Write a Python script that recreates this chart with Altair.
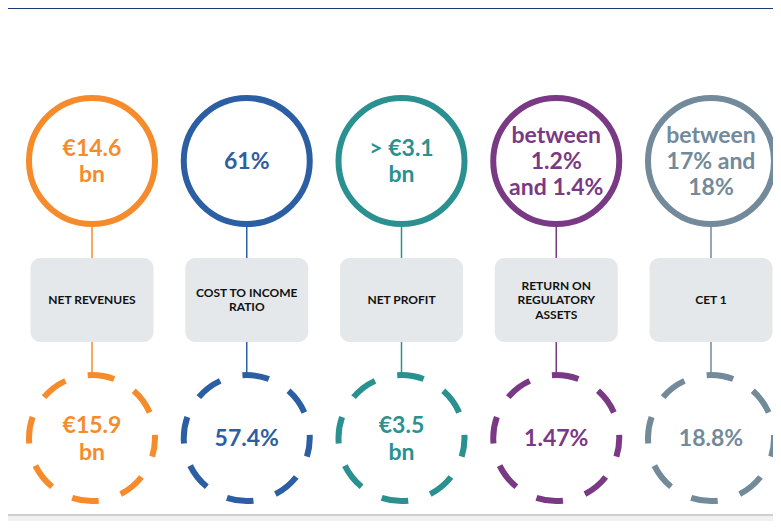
import altair as alt
import pandas as pd

keys = ["rev", "cti", "np", "rora", "cet"]
top_values = ["€14.6\nbn", "61%", "> €3.1\nbn", "between\n1.2%\nand 1.4%", "between\n17% and\n18%"]
labels = ["NET REVENUES", "COST TO INCOME\nRATIO", "NET PROFIT", "RETURN ON\nREGULATORY\nASSETS", "CET 1"]
bottom_values = ["€15.9\nbn", "57.4%", "€3.5\nbn", "1.47%", "18.8%"]
ring_colors = ["#F68B2B", "#2B5EA3", "#2A9190", "#7A3984", "#728A99"]
text_colors = ["#E27722", "#2B5EA3", "#2A8F8F", "#7A3984", "#6C8493"]

df = pd.DataFrame({
    "i": list(range(len(keys))),
    "key": keys,
    "top": top_values,
    "label": labels,
    "bottom": bottom_values,
})

FONT = "Lato"
x = alt.X("i:Q", scale=alt.Scale(domain=[0, 4], range=[84, 703]), axis=None)
ring = alt.Color("key:N", scale=alt.Scale(domain=keys, range=ring_colors), legend=None)
tcol = alt.Color("key:N", scale=alt.Scale(domain=keys, range=text_colors), legend=None)

base = alt.Chart(df)


def block_text(field, yc, size, lh, color_enc, weight="bold", fixed_color=None):
    layers = []
    for n in (1, 2, 3):
        kw = dict(font=FONT, fontSize=size, fontWeight=weight, lineBreak="\n", lineHeight=lh,
                  baseline="middle", align="center", dy=-(n - 1) * lh / 2)
        if fixed_color:
            kw["color"] = fixed_color
        enc = dict(x=x, y=alt.value(yc), text=f"{field}:N")
        if color_enc is not None:
            enc["color"] = color_enc
        layers.append(
            base.transform_calculate(nl=f"split(datum['{field}'], '\\n').length")
            .transform_filter(f"datum.nl == {n}")
            .mark_text(**kw).encode(**enc)
        )
    return layers


top_circle = base.mark_point(shape="circle", size=15876, strokeWidth=6, filled=False, opacity=1).encode(
    x=x, y=alt.value(153), color=ring)
conn1 = base.mark_rule(strokeWidth=1.5).encode(x=x, y=alt.value(219), y2=alt.value(250), color=ring)
box = base.mark_rect(width=123, cornerRadius=10, color="#E4E8EB").encode(
    x=x, y=alt.value(250), y2=alt.value(334))
conn2 = base.mark_rule(strokeWidth=1.5).encode(x=x, y=alt.value(334), y2=alt.value(364), color=ring)
dash_circle = base.mark_point(shape="circle", size=15876, strokeWidth=6, filled=False, opacity=1,
                              strokeDash=[27, 23], strokeDashOffset=8).encode(
    x=x, y=alt.value(430), color=ring)

frame_top = base.mark_rule(color="#1F3A78", strokeWidth=2).encode(
    x=alt.value(0), x2=alt.value(765), y=alt.value(0))
frame_bottom = base.mark_rule(color="#CFCFCF", strokeWidth=1.5).encode(
    x=alt.value(0), x2=alt.value(765), y=alt.value(507))
frame_fill = base.mark_rect(color="#F1F1F1").encode(
    x=alt.value(0), x2=alt.value(765), y=alt.value(508), y2=alt.value(513))

layers = [frame_fill, frame_bottom, frame_top, conn1, conn2, box, top_circle, dash_circle]
layers += block_text("top", 154, 23, 26, tcol)
layers += block_text("label", 292, 12, 14.5, None, fixed_color="#111111")
layers += block_text("bottom", 431, 23, 27, tcol)

chart = alt.layer(*layers).properties(
    width=765, height=513, padding=0, autosize="none").configure_view(stroke=None)

chart.save("out.html", embed_options={"renderer": "svg", "actions": False})
